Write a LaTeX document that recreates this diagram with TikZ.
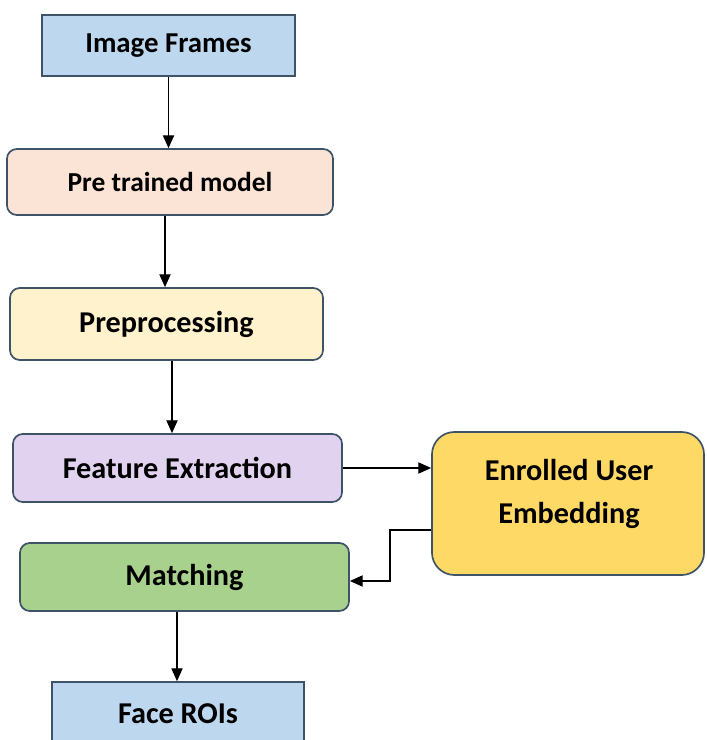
\documentclass[tikz,border=0pt]{standalone}
\usepackage{fontspec}
\setmainfont{Carlito}
\usetikzlibrary{positioning,arrows.meta}
\definecolor{frame}{HTML}{3F5368}
\definecolor{skyfill}{HTML}{BDD7EE}
\definecolor{peachfill}{HTML}{FBE3D5}
\definecolor{creamfill}{HTML}{FFF2CC}
\definecolor{lilacfill}{HTML}{E1D3F0}
\definecolor{goldfill}{HTML}{FFD966}
\definecolor{leaffill}{HTML}{A9D18E}
\tikzset{
  box/.style={draw=frame,line width=1.2pt,inner sep=0pt,font=\bfseries\fontsize{21.5}{30}\selectfont},
  sqbox/.style={box,fill=skyfill},
  rbox/.style={box,rounded corners=7pt},
  edge/.style={-{Triangle[length=3.2mm,width=2.8mm]},line width=0.9pt}
}
\begin{document}
\begin{tikzpicture}[x=0.025cm,y=-0.025cm]
\useasboundingbox (0,0) rectangle (706,740);
\node[sqbox,minimum width=6.325cm,minimum height=1.525cm,font=\bfseries\fontsize{20.5}{24}\selectfont] (img) at (168.5,45.5) {Image Frames};
\node[rbox,fill=peachfill,minimum width=8.15cm,minimum height=1.65cm,font=\bfseries\fontsize{19.5}{22}\selectfont] (pre) at (170,182) {Pre trained model};
\node[rbox,fill=creamfill,minimum width=7.825cm,minimum height=1.8cm] (prep) at (166.5,324) {Preprocessing};
\node[rbox,fill=lilacfill,minimum width=8.225cm,minimum height=1.7cm] (feat) at (177.5,468) {Feature Extraction};
\node[box,fill=goldfill,rounded corners=16pt,minimum width=6.8cm,minimum height=3.575cm] (enr) at (568,503.5) {};
\node[align=center,font=\bfseries\fontsize{21.5}{30}\selectfont] (enrtxt) at (569,494) {Enrolled User\\Embedding};
\node[rbox,fill=leaffill,minimum width=8.225cm,minimum height=1.7cm] (match) at (184.5,577) {Matching};
\node[sqbox,minimum width=6.3cm,minimum height=1.575cm] (face) at (178,713.5) {Face ROIs};
% flow
\draw[edge] (img.south) -- (img.south |- pre.north);
\draw[edge] ([xshift=-0.125cm]pre.south) -- ([xshift=-0.125cm]pre.south |- prep.north);
\draw[edge] ([xshift=0.1375cm]prep.south) -- ([xshift=0.1375cm]prep.south |- feat.north);
\draw[edge] (feat.east) -- (feat.east -| enr.west);
\draw[edge] ([yshift=-0.66cm]enr.west) -| ([xshift=1cm,yshift=-0.1cm]match.east) -- ([yshift=-0.1cm]match.east);
\draw[edge] ([xshift=-0.1875cm]match.south) -- ([xshift=-0.1875cm]match.south |- face.north);
\end{tikzpicture}
\end{document}
